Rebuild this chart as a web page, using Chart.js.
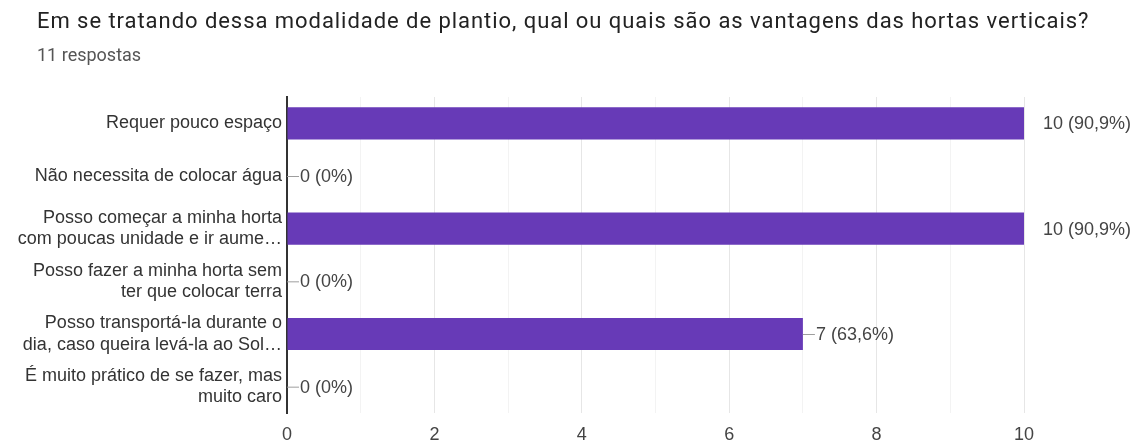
<!DOCTYPE html>
<html lang="pt">
<head>
<meta charset="utf-8">
<script src="https://cdn.jsdelivr.net/npm/chart.js@4.4.1/dist/chart.umd.min.js"></script>
<style>
  html, body { margin: 0; padding: 0; background: #ffffff; }
  #wrap { position: relative; width: 1144px; height: 446px; overflow: hidden; }
  #title { position: absolute; left: 37px; top: 8px; font: 22px/26px Roboto, 'Liberation Sans', sans-serif; letter-spacing: 0.95px; color: #222; white-space: nowrap; }
  #subtitle { position: absolute; left: 37px; top: 44px; font: 18px/22px Roboto, 'Liberation Sans', sans-serif; color: #555; white-space: nowrap; }
  #chart { position: absolute; left: 0; top: 0; }
</style>
</head>
<body>
<div id="wrap">
  <canvas id="chart" width="1144" height="446"></canvas>
  <div id="title">Em se tratando dessa modalidade de plantio, qual ou quais são as vantagens das hortas verticais?</div>
  <div id="subtitle">11 respostas</div>
</div>
<script>
const totalRespostas = 11;

const categorias = [
    'Requer pouco espaço',
    'Não necessita de colocar água',
    ['Posso começar a minha horta', 'com poucas unidade e ir aume…'],
    ['Posso fazer a minha horta sem', 'ter que colocar terra'],
    ['Posso transportá-la durante o', 'dia, caso queira levá-la ao Sol…'],
    ['É muito prático de se fazer, mas', 'muito caro']
];

const respostas = [10, 0, 10, 0, 7, 0];

const ticksX = [0, 2, 4, 6, 8, 10];

const corBarra = '#673ab7';
const fonte = "'Liberation Sans', Arial, sans-serif";

function formatarRotulo(v) {
    let pct = (v / totalRespostas * 100).toFixed(1).replace('.', ',');
    if (pct.endsWith(',0')) pct = pct.slice(0, -2);
    return v + ' (' + pct + '%)';
}

// rótulos ao lado das barras, com traço guia
const rotulosBarras = {
    id: 'rotulosBarras',
    afterDatasetsDraw(chart) {
        const ctx = chart.ctx;
        const meta = chart.getDatasetMeta(0);
        const maximo = Math.max(...respostas);
        ctx.save();
        ctx.font = '18px ' + fonte;
        ctx.textBaseline = 'middle';
        ctx.textAlign = 'left';
        meta.data.forEach((bar, i) => {
            const v = respostas[i];
            let x = bar.x;
            if (v < maximo) {
                ctx.strokeStyle = '#9e9e9e';
                ctx.lineWidth = 1;
                ctx.beginPath();
                ctx.moveTo(x, bar.y + 0.5);
                ctx.lineTo(x + 12, bar.y + 0.5);
                ctx.stroke();
                x += 13;
            } else {
                x += 19;
            }
            ctx.fillStyle = '#444';
            ctx.fillText(formatarRotulo(v), x, bar.y + 1);
        });
        ctx.restore();
    }
};

const ctx = document.getElementById('chart').getContext('2d');
const chart = new Chart(ctx, {
    type: 'bar',
    data: {
        labels: categorias,
        datasets: [{
            data: respostas,
            backgroundColor: corBarra,
            borderWidth: 0,
            categoryPercentage: 1,
            barPercentage: 0.61
        }]
    },
    options: {
        indexAxis: 'y',
        responsive: false,
        animation: false,
        layout: {
            padding: { top: 97, right: 120, bottom: 0, left: 0 }
        },
        plugins: {
            legend: { display: false },
            tooltip: { enabled: false }
        },
        scales: {
            x: {
                min: 0,
                max: 10,
                afterFit: (scale) => { scale.height = 33; },
                afterBuildTicks: (scale) => {
                    const t = [];
                    for (let v = 0; v <= 10; v++) t.push({ value: v });
                    scale.ticks = t;
                },
                ticks: {
                    autoSkip: false,
                    maxRotation: 0,
                    padding: 11,
                    color: '#444',
                    font: { family: fonte, size: 18 },
                    callback: (v) => ticksX.includes(v) ? String(v) : ''
                },
                grid: {
                    drawTicks: false,
                    color: (c) => ticksX.includes(c.tick.value) ? '#e6e6e6' : '#f3f3f3',
                    lineWidth: 1
                },
                border: { display: false }
            },
            y: {
                afterFit: (scale) => { scale.width = 287; },
                ticks: {
                    padding: 5,
                    color: '#333',
                    font: { family: fonte, size: 18 }
                },
                grid: { display: false, drawTicks: false },
                border: { display: true, color: '#333', width: 2 }
            }
        }
    },
    plugins: [rotulosBarras]
});
</script>
</body>
</html>
